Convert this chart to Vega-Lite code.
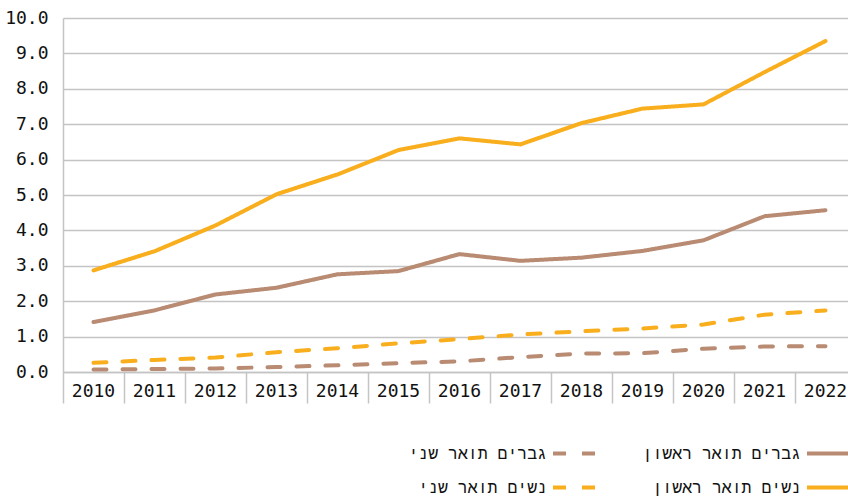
{
  "$schema": "https://vega.github.io/schema/vega-lite/v6.json",
  "width": 793,
  "height": 354,
  "autosize": {"type": "none"},
  "padding": {"left": 63, "top": 18, "right": 0, "bottom": 124},
  "background": "white",
  "config": {"font": "DejaVu Sans Mono", "view": {"stroke": null}},
  "data": {
    "values": [
      {"series": "נשים תואר ראשון", "year": "2010", "value": 2.87},
      {"series": "נשים תואר ראשון", "year": "2011", "value": 3.41},
      {"series": "נשים תואר ראשון", "year": "2012", "value": 4.14},
      {"series": "נשים תואר ראשון", "year": "2013", "value": 5.02},
      {"series": "נשים תואר ראשון", "year": "2014", "value": 5.58},
      {"series": "נשים תואר ראשון", "year": "2015", "value": 6.27},
      {"series": "נשים תואר ראשון", "year": "2016", "value": 6.6},
      {"series": "נשים תואר ראשון", "year": "2017", "value": 6.43},
      {"series": "נשים תואר ראשון", "year": "2018", "value": 7.03},
      {"series": "נשים תואר ראשון", "year": "2019", "value": 7.44},
      {"series": "נשים תואר ראשון", "year": "2020", "value": 7.56},
      {"series": "נשים תואר ראשון", "year": "2021", "value": 8.47},
      {"series": "נשים תואר ראשון", "year": "2022", "value": 9.35},
      {"series": "גברים תואר ראשון", "year": "2010", "value": 1.41},
      {"series": "גברים תואר ראשון", "year": "2011", "value": 1.74},
      {"series": "גברים תואר ראשון", "year": "2012", "value": 2.19},
      {"series": "גברים תואר ראשון", "year": "2013", "value": 2.38},
      {"series": "גברים תואר ראשון", "year": "2014", "value": 2.76},
      {"series": "גברים תואר ראשון", "year": "2015", "value": 2.85},
      {"series": "גברים תואר ראשון", "year": "2016", "value": 3.33},
      {"series": "גברים תואר ראשון", "year": "2017", "value": 3.14},
      {"series": "גברים תואר ראשון", "year": "2018", "value": 3.23},
      {"series": "גברים תואר ראשון", "year": "2019", "value": 3.42},
      {"series": "גברים תואר ראשון", "year": "2020", "value": 3.72},
      {"series": "גברים תואר ראשון", "year": "2021", "value": 4.4},
      {"series": "גברים תואר ראשון", "year": "2022", "value": 4.57},
      {"series": "נשים תואר שני", "year": "2010", "value": 0.26},
      {"series": "נשים תואר שני", "year": "2011", "value": 0.34},
      {"series": "נשים תואר שני", "year": "2012", "value": 0.41},
      {"series": "נשים תואר שני", "year": "2013", "value": 0.56},
      {"series": "נשים תואר שני", "year": "2014", "value": 0.67},
      {"series": "נשים תואר שני", "year": "2015", "value": 0.81},
      {"series": "נשים תואר שני", "year": "2016", "value": 0.93},
      {"series": "נשים תואר שני", "year": "2017", "value": 1.06},
      {"series": "נשים תואר שני", "year": "2018", "value": 1.15},
      {"series": "נשים תואר שני", "year": "2019", "value": 1.23},
      {"series": "נשים תואר שני", "year": "2020", "value": 1.34},
      {"series": "נשים תואר שני", "year": "2021", "value": 1.62},
      {"series": "נשים תואר שני", "year": "2022", "value": 1.74},
      {"series": "גברים תואר שני", "year": "2010", "value": 0.07},
      {"series": "גברים תואר שני", "year": "2011", "value": 0.085},
      {"series": "גברים תואר שני", "year": "2012", "value": 0.1},
      {"series": "גברים תואר שני", "year": "2013", "value": 0.14},
      {"series": "גברים תואר שני", "year": "2014", "value": 0.19},
      {"series": "גברים תואר שני", "year": "2015", "value": 0.25},
      {"series": "גברים תואר שני", "year": "2016", "value": 0.3},
      {"series": "גברים תואר שני", "year": "2017", "value": 0.42},
      {"series": "גברים תואר שני", "year": "2018", "value": 0.52},
      {"series": "גברים תואר שני", "year": "2019", "value": 0.53},
      {"series": "גברים תואר שני", "year": "2020", "value": 0.66},
      {"series": "גברים תואר שני", "year": "2021", "value": 0.72},
      {"series": "גברים תואר שני", "year": "2022", "value": 0.73}
    ]
  },
  "mark": {"type": "line", "strokeWidth": 4, "strokeCap": "round", "strokeJoin": "round"},
  "encoding": {
    "x": {
      "field": "year",
      "type": "ordinal",
      "scale": {"type": "band", "paddingInner": 0, "paddingOuter": 0},
      "axis": {
        "title": null,
        "labelAngle": 0,
        "bandPosition": 0,
        "tickSize": 31,
        "tickColor": "#c4c4c4",
        "tickWidth": 1.5,
        "domainColor": "#c4c4c4",
        "domainWidth": 1.5,
        "labelPadding": -21,
        "labelFontSize": 18,
        "labelColor": "#111111",
        "grid": false
      }
    },
    "y": {
      "field": "value",
      "type": "quantitative",
      "scale": {"domain": [0, 10]},
      "axis": {
        "title": null,
        "values": [0, 1, 2, 3, 4, 5, 6, 7, 8, 9, 10],
        "format": ".1f",
        "tickSize": 0,
        "labelPadding": 15,
        "labelFontSize": 18,
        "labelColor": "#111111",
        "gridColor": "#c4c4c4",
        "gridWidth": 1.5,
        "domainColor": "#c4c4c4",
        "domainWidth": 1.5
      }
    },
    "color": {
      "field": "series",
      "type": "nominal",
      "scale": {
        "domain": ["גברים תואר שני", "נשים תואר שני", "גברים תואר ראשון", "נשים תואר ראשון"],
        "range": ["#b88b72", "#f9ae1d", "#b88b72", "#f9ae1d"]
      },
      "legend": {
        "title": null,
        "orient": "none",
        "legendX": 488,
        "legendY": 410,
        "columns": 2,
        "symbolType": "stroke",
        "symbolSize": 2209,
        "symbolStrokeWidth": 4,
        "labelAlign": "right",
        "labelOffset": -55,
        "labelFont": "Liberation Mono",
        "labelFontSize": 16.5,
        "labelColor": "#111111",
        "labelLimit": 400,
        "rowPadding": -9,
        "columnPadding": 34
      }
    },
    "strokeDash": {
      "field": "series",
      "type": "nominal",
      "scale": {
        "domain": ["גברים תואר שני", "נשים תואר שני", "גברים תואר ראשון", "נשים תואר ראשון"],
        "range": [[13, 16], [13, 16], [1, 0], [1, 0]]
      },
      "legend": {
        "title": null,
        "orient": "none",
        "legendX": 488,
        "legendY": 410,
        "columns": 2,
        "symbolType": "stroke",
        "symbolSize": 2209,
        "symbolStrokeWidth": 4,
        "labelAlign": "right",
        "labelOffset": -55,
        "labelFont": "Liberation Mono",
        "labelFontSize": 16.5,
        "labelColor": "#111111",
        "labelLimit": 400,
        "rowPadding": -9,
        "columnPadding": 34
      }
    }
  }
}
